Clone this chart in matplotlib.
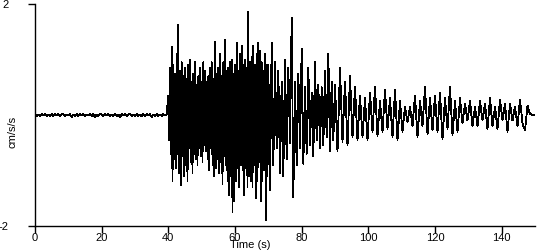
import numpy as np
import matplotlib
matplotlib.use("Agg")
import matplotlib.pyplot as plt

# quiet pre-event noise, 0-40 s, two values per second (cm/s/s)
pre_dt = 0.5
pre_vals = [0.015, -0.015, 0.01, -0.015, 0.02, -0.01, 0.015, -0.015, 0.01, -0.02,
            0.015, -0.015, 0.02, -0.01, 0.015, -0.015, 0.01, 0.02, -0.015, 0.01,
            -0.01, 0.015, -0.04, 0.01, -0.015, 0.015, -0.02, 0.015, -0.01, 0.015,
            -0.015, 0.01, -0.01, 0.02, -0.015, 0.015, -0.04, 0.01, -0.015, 0.02,
            0.01, -0.015, 0.015, -0.01, 0.02, -0.015, 0.01, -0.02, 0.015, -0.015,
            0.01, -0.04, 0.02, -0.01, 0.015, -0.015, 0.01, 0.02, -0.015, 0.01,
            -0.015, 0.02, -0.015, 0.01, -0.02, 0.015, -0.015, 0.02, -0.01, 0.015,
            -0.04, 0.01, -0.015, 0.02, -0.015, 0.01, -0.015, 0.015, -0.01, 0.015]

# strongest shaking, 40-70 s, four values per second
strong_dt = 0.25
strong_vals = [
    0.35, -0.45, 0.85, -0.7,   1.23, -1.2, 0.9, -0.8,    0.75, -0.95, 1.1, -0.7,
    1.62, -1.05, 0.8, -1.26,   0.95, -0.75, 0.7, -1.1,   0.85, -0.9, 0.65, -1.2,
    0.9, -0.6, 1.0, -0.85,     0.6, -1.05, 0.75, -0.7,   0.95, -0.8, 0.55, -0.9,
    0.7, -0.6, 0.85, -0.75,    0.6, -0.85, 0.95, -0.55,  0.8, -0.65, 0.6, -0.8,
    0.7, -1.0, 0.85, -0.6,     0.95, -0.9, 0.65, -1.1,   1.32, -0.95, 0.75, -0.8,
    0.85, -1.05, 1.1, -0.85,   0.7, -1.25, 0.95, -0.75,  1.35, -0.9, 0.8, -1.2,
    0.85, -1.45, 0.95, -1.1,   1.0, -1.75, 0.75, -1.55,  0.9, -1.2, 1.3, -0.95,
    0.8, -1.3, 1.1, -0.9,      1.25, -1.0, 0.9, -1.45,   1.0, -0.95, 0.85, -1.3,
    1.86, -1.1, 0.95, -1.2,    1.05, -1.3, 1.25, -0.9,   0.9, -1.5, 1.1, -1.2,
    1.3, -0.85, 1.15, -1.55,   0.95, -1.2, 0.8, -1.0,    1.1, -1.89, 0.9, -1.1,
]

# decaying strong phase, 70-90 s, two values per second
decay_dt = 0.5
decay_vals = [
    0.9, -1.35, 1.3, -0.9, 0.95, -0.6, 0.8, -1.05,
    0.6, -1.1, 1.0, -0.8, 0.85, -0.5, 1.75, -1.48,
    0.6, -0.9, 0.75, -0.6, 1.2, -0.88, 0.5, -0.7,
    0.85, -0.55, 0.4, -0.75, 0.95, -0.45, 0.55, -0.6,
    0.5, -0.55, 0.8, -0.4, 1.1, -0.66, 0.6, -0.45,
]

# coda, 90-150 s
coda_dt = 0.75
coda_vals = [
    0.55, -0.66, 0.85, -0.48, 0.6, -0.55, 0.7, -0.4,
    0.5, -0.45, 0.35, -0.4, 0.3, -0.45, 0.4, -0.3,
    0.5, -0.38, 0.25, -0.3, 0.45, -0.25, 0.3, -0.4,
    0.45, -0.45, 0.25, -0.3, 0.15, -0.12, 0.15, -0.2,
    0.35, -0.4, 0.25, -0.2, 0.5, -0.35, 0.3, -0.28,
    0.35, -0.3, 0.4, -0.44, 0.3, -0.25, 0.5, -0.36,
    0.25, -0.3, 0.3, -0.15, 0.2, -0.1, 0.25, -0.2,
    0.15, -0.2, 0.25, -0.1, 0.2, -0.25, 0.3, -0.2,
    0.15, -0.25, 0.28, -0.1, 0.2, -0.3, 0.2, -0.1,
    0.15, -0.2, 0.28, -0.15, -0.28, 0.17, 0.02, 0.0,
    0.0,
]

x_ticks = [0, 20, 40, 60, 80, 100, 120, 140]
y_ticks = [-2, 2]

t_pre = np.arange(len(pre_vals)) * pre_dt
t_strong = 40 + np.arange(len(strong_vals)) * strong_dt
t_decay = 70 + np.arange(len(decay_vals)) * decay_dt
t_coda = 90 + np.arange(len(coda_vals)) * coda_dt
t = np.concatenate([t_pre, t_strong, t_decay, t_coda])
acc = np.concatenate([pre_vals, strong_vals, decay_vals, coda_vals])

plt.rcParams["font.family"] = ["Liberation Sans", "DejaVu Sans"]

fig = plt.figure(figsize=(5.5, 2.5), dpi=100)
ax = fig.add_axes([35 / 550, 24 / 250, 500 / 550, 222 / 250])
ax.plot(t, acc, color="black", lw=0.6, antialiased=False)

ax.set_xlim(0, 150)
ax.set_ylim(-2, 2)
ax.set_xticks(x_ticks)
ax.set_yticks(y_ticks)
ax.set_yticklabels(["-2", "2"])
ax.tick_params(axis="x", length=5, width=1, labelsize=8, pad=0)
ax.tick_params(axis="y", length=5, width=1, labelsize=8, pad=14)
for s in ["top", "right"]:
    ax.spines[s].set_visible(False)
for s in ["left", "bottom"]:
    ax.spines[s].set_linewidth(1)

fig.text(250 / 550, 0, "Time (s)", ha="center", va="bottom", fontsize=8)
fig.text(12 / 550, 118 / 250, "cm/s/s", ha="center", va="center",
         rotation=90, fontsize=8)

fig.savefig("out.png", dpi=100)
